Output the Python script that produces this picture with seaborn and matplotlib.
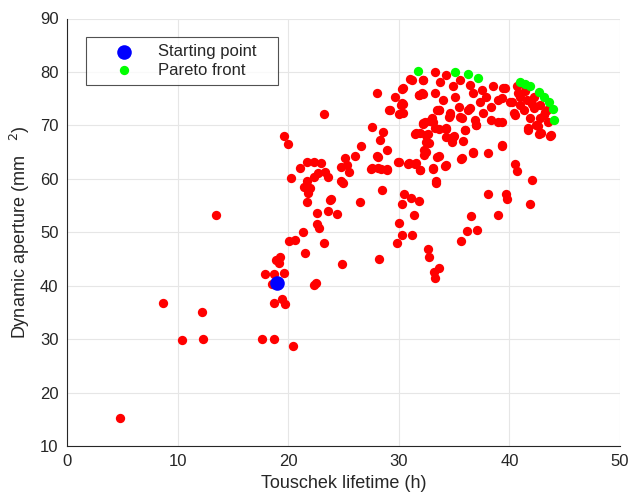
import matplotlib
matplotlib.use("Agg")
import matplotlib.pyplot as plt
import seaborn as sns
import pandas as pd

# Population of evaluated lattices: Touschek lifetime (h) vs dynamic aperture (mm^2)
pop_lifetime = [
    4.8, 8.7, 10.4, 12.2, 12.3, 13.5, 17.6, 18.7, 20.4, 18.7, 19.7, 19.4,
    17.9, 18.5, 19.6, 18.7, 18.9, 19.3, 19.2, 22.3, 22.5, 21.5, 23.2, 24.9,
    28.2, 20.1, 20.6, 21.3, 22.6, 22.8, 22.6, 23.6, 24.4, 23.8, 26.5, 28.5,
    20.0, 19.6, 23.2,
    21.7, 22.3, 23.0, 21.1, 20.3, 21.7, 21.4, 22.3, 22.7, 23.3, 23.6, 22.0,
    21.8, 21.7, 23.9, 24.8, 25.3, 25.1, 25.5, 24.8, 25.0, 26.0, 26.6, 27.6,
    28.1, 28.0,
    27.6, 28.0, 28.3, 28.1, 27.5, 28.9, 28.9, 29.1, 29.7, 30.0, 30.2, 30.3,
    31.0, 32.2, 31.8, 32.2, 29.9, 30.8, 31.5, 31.9,
    30.5, 31.1, 31.8, 30.3, 31.4, 30.0, 30.3, 31.2, 29.8, 32.6, 32.7, 33.2,
    33.6, 33.3, 33.1, 33.4, 33.5, 34.2,
    32.2, 31.5, 32.6, 32.5, 32.3, 32.3, 32.8, 33.6, 33.5, 34.3, 34.5, 34.8,
    35.0, 34.8,
    29.2, 30.4, 32.2, 33.0, 33.6, 34.6, 35.5, 36.3, 36.9, 33.3, 34.3, 36.0,
    31.6, 32.5, 32.7, 32.5, 33.6, 34.8, 35.8, 36.7, 35.7, 34.3, 33.1, 31.6,
    30.9, 31.9, 30.0, 28.6, 28.9, 28.4, 33.4,
    31.2, 32.2, 33.3, 34.3, 33.7, 30.4, 32.1, 31.8, 33.3, 34.0, 34.9, 35.1,
    35.4, 35.5, 36.4, 36.7, 37.5, 37.9, 38.5, 39.4, 39.0, 38.3, 37.3, 37.6,
    36.4, 35.7, 34.6, 33.6, 33.1, 32.4, 34.3, 34.9, 36.0, 37.0, 38.3, 39.0,
    40.1, 40.4, 30.4, 30.3, 31.9, 32.5,
    36.5, 36.2, 37.1, 35.6, 35.6, 36.7, 38.1, 39.3, 38.1, 39.7, 39.8, 39.0,
    40.5, 40.7, 42.0, 41.9, 37.0,
    39.6, 39.3, 40.7, 40.2, 41.0, 41.6, 42.2, 41.3, 42.2, 42.8, 43.4, 40.5,
    41.9, 42.8, 43.5, 41.7, 42.6, 42.9, 43.8, 39.3, 39.3, 43.1, 41.0, 42.7,
    43.7, 41.7, 41.4, 42.0, 42.4, 40.8, 41.5, 43.2,
]
pop_aperture = [
    15.3, 36.7, 29.8, 35.0, 30.0, 53.3, 30.0, 30.1, 28.7, 36.7, 36.6, 37.5,
    42.2, 40.3, 42.4, 42.2, 44.9, 45.3, 44.3, 40.1, 40.5, 46.1, 47.9, 44.1,
    45.0, 48.3, 48.6, 50.0, 51.6, 50.8, 53.6, 54.0, 53.4, 56.1, 55.6, 58.0,
    66.6, 68.1, 72.1,
    63.2, 63.2, 62.9, 62.0, 60.1, 59.5, 58.5, 60.4, 61.0, 61.3, 60.4, 58.2,
    57.3, 55.7, 56.2, 62.3, 62.6, 63.9, 61.3, 59.5, 59.2, 64.2, 66.2, 62.0,
    62.0, 64.2,
    69.7, 76.1, 67.2, 64.1, 61.8, 61.8, 65.3, 72.8, 75.3, 72.2, 73.8, 76.9,
    78.6, 78.4, 75.6, 75.9, 63.1, 62.7, 62.7, 61.6,
    57.2, 56.4, 55.8, 55.2, 53.3, 51.8, 49.5, 49.5, 47.9, 46.9, 45.3, 42.5,
    43.4, 41.4, 61.9, 59.3, 64.1, 62.4,
    70.3, 68.4, 68.4, 66.9, 65.3, 64.4, 70.9, 69.3, 72.8, 69.3, 71.5, 67.5,
    68.1, 66.9,
    72.9, 74.0, 70.4, 71.3, 72.9, 72.3, 71.6, 72.9, 71.0, 69.5, 69.5, 69.2,
    68.5, 68.2, 66.7, 65.1, 64.2, 67.6, 67.0, 65.1, 63.9, 62.6, 62.0, 62.9,
    62.9, 61.7, 63.2, 68.8, 61.7, 61.8, 59.5,
    78.5, 78.5, 79.9, 79.4, 78.2, 77.0, 76.0, 75.6, 76.0, 74.8, 77.3, 75.4,
    73.5, 78.5, 77.6, 76.0, 76.6, 75.4, 77.3, 77.0, 74.8, 73.5, 74.4, 72.3,
    73.2, 71.3, 72.0, 72.9, 70.7, 70.7, 67.9, 67.9, 69.2, 70.1, 71.0, 70.7,
    74.4, 72.3, 72.3, 74.1, 68.5, 68.2,
    53.0, 50.2, 50.4, 48.3, 63.8, 64.8, 64.9, 66.1, 57.1, 57.2, 56.3, 53.3,
    62.7, 61.4, 59.7, 55.3, 70.0,
    77.0, 75.1, 77.3, 74.4, 75.4, 74.8, 75.4, 72.9, 73.2, 73.8, 72.9, 72.0,
    71.3, 71.3, 70.7, 69.5, 69.8, 68.5, 68.2, 70.7, 66.3, 72.0, 73.8, 68.3,
    68.1, 69.1, 76.5, 74.0, 70.0, 76.0, 77.0, 72.5,
]

# Non-dominated solutions
pareto_lifetime = [31.7, 35.1, 36.3, 37.2, 41.0, 41.4, 41.9, 42.7, 43.1, 43.6, 43.9, 44.0]
pareto_aperture = [80.2, 79.9, 79.6, 78.9, 78.2, 77.8, 77.3, 76.3, 75.4, 74.3, 73.0, 71.0]

# Initial lattice
start_lifetime = [19.0]
start_aperture = [40.5]

pop = pd.DataFrame({"lifetime": pop_lifetime, "aperture": pop_aperture})
pareto = pd.DataFrame({"lifetime": pareto_lifetime, "aperture": pareto_aperture})
start = pd.DataFrame({"lifetime": start_lifetime, "aperture": start_aperture})

sns.set_style("white")
plt.rcParams["font.family"] = ["Liberation Sans", "DejaVu Sans"]

fig = plt.figure(figsize=(6.31, 5.0), dpi=100)
ax = fig.add_axes([0.106, 0.108, 0.8766, 0.855])

axis_col = "#262626"

sns.scatterplot(data=pop, x="lifetime", y="aperture", ax=ax, color="#ff0000",
                s=45, linewidth=0, legend=False, zorder=3)
sns.scatterplot(data=pareto, x="lifetime", y="aperture", ax=ax, color="#00ff00",
                s=45, linewidth=0, label="Pareto front", zorder=4)
sns.scatterplot(data=start, x="lifetime", y="aperture", ax=ax, color="#0000ff",
                s=110, linewidth=0, label="Starting point", zorder=5)

ax.set_xlim(0, 50)
ax.set_ylim(10, 90)
ax.set_xticks(range(0, 51, 10))
ax.set_yticks(range(10, 91, 10))
ax.grid(True, color="#e6e6e6", linewidth=0.8)
ax.set_axisbelow(True)

for side in ("top", "right"):
    ax.spines[side].set_visible(False)
for side in ("left", "bottom"):
    ax.spines[side].set_color(axis_col)
    ax.spines[side].set_linewidth(0.8)

ax.tick_params(direction="in", length=5, width=0.8, colors=axis_col,
               labelsize=12, labelcolor=axis_col, pad=6)

ax.set_xlabel("Touschek lifetime (h)", fontsize=13, color=axis_col, labelpad=4)
ax.set_ylabel("Dynamic aperture (mm   $^{2}$)", fontsize=13, color=axis_col, labelpad=6)

handles, labels = ax.get_legend_handles_labels()
order = [labels.index("Starting point"), labels.index("Pareto front")]
leg = ax.legend([handles[i] for i in order],
                [labels[i] + "   " for i in order],
                loc="upper left", bbox_to_anchor=(0.035, 0.957), fontsize=12,
                frameon=True, fancybox=False, edgecolor=axis_col,
                borderpad=0.45, handlelength=3.6, handletextpad=0.25,
                labelspacing=0.2, borderaxespad=0.0)
leg.get_frame().set_linewidth(0.8)

fig.savefig("out.png", dpi=100, facecolor="white")
